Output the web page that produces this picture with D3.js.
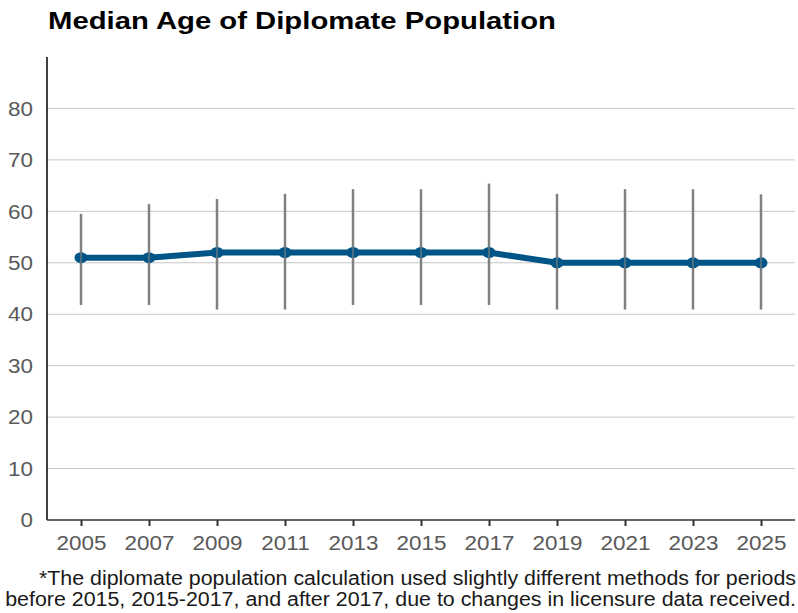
<!DOCTYPE html>
<html><head><meta charset="utf-8">
<script src="https://cdn.jsdelivr.net/npm/d3@7"></script>
<style>body{margin:0;background:#fff}svg{display:block}text{font-family:"Liberation Sans",Arial,sans-serif}</style>
</head><body>
<svg id="c" width="798" height="613"></svg>
<script>
const years = [2005,2007,2009,2011,2013,2015,2017,2019,2021,2023,2025];
const medianAge = [51,51,52,52,52,52,52,50,50,50,50];
const lowAge = [41.8,41.8,40.9,40.9,41.8,41.8,41.8,40.9,40.9,40.9,40.9];
const highAge = [59.5,61.4,62.4,63.4,64.3,64.3,65.4,63.4,64.3,64.3,63.3];
const yTicks = [0,10,20,30,40,50,60,70,80];
const title = "Median Age of Diplomate Population";
const notes = ["*The diplomate population calculation used slightly different methods for periods",
               "before 2015, 2015-2017, and after 2017, due to changes in licensure data received."];

const TSX = 1.22; // title horizontal stretch seen in the reference
const SX = 1.07;  // other text stretch
const svg = d3.select("#c");
const L=47, R=795, T=57, B=520;
const x = d3.scaleLinear().domain([2004,2026]).range([L,R]);
const y = d3.scaleLinear().domain([0,90]).range([B,T]);

svg.append("text").attr("transform",`translate(48,29) scale(${TSX},1)`).attr("font-size",24).attr("font-weight","bold")
  .attr("fill","#000").text(title);

// gridlines
svg.append("g").selectAll("line").data(yTicks.filter(d=>d>0)).join("line")
  .attr("x1",L).attr("x2",R).attr("y1",d=>y(d)).attr("y2",d=>y(d))
  .attr("stroke","#c8c8c8").attr("stroke-width",1);

// y axis
const ya = svg.append("g").attr("transform",`translate(${L},0)`)
  .call(d3.axisLeft(y).tickValues(yTicks).tickSize(0).tickPadding(14/SX));
ya.select(".domain").attr("stroke","#000").attr("stroke-width",1.5).attr("d",`M0,${T}V${B}`);
ya.selectAll("text").attr("font-size",21).attr("fill","#595959").attr("font-family","Liberation Sans, Arial, sans-serif")
  .attr("transform",`scale(${SX},1)`);

// x axis
const xa = svg.append("g").attr("transform",`translate(0,${B})`)
  .call(d3.axisBottom(x).tickValues(years).tickFormat(d3.format("d")).tickSize(6).tickPadding(9));
xa.select(".domain").attr("stroke","#333").attr("stroke-width",1.5).attr("d",`M${L},0H${R}`);
xa.selectAll(".tick line").attr("stroke","#333").attr("stroke-width",2);
xa.selectAll("text").attr("font-size",21).attr("fill","#595959").attr("font-family","Liberation Sans, Arial, sans-serif")
  .attr("transform",`scale(${SX},1)`);

const data = years.map((yr,i)=>({yr, m:medianAge[i], lo:lowAge[i], hi:highAge[i]}));

// error bars
svg.append("g").selectAll("line").data(data).join("line")
  .attr("x1",d=>x(d.yr)).attr("x2",d=>x(d.yr)).attr("y1",d=>y(d.lo)).attr("y2",d=>y(d.hi))
  .attr("stroke","#808080").attr("stroke-width",2.5);

// line
svg.append("path").datum(data)
  .attr("d",d3.line().x(d=>x(d.yr)).y(d=>y(d.m)))
  .attr("fill","none").attr("stroke","#005587").attr("stroke-width",6);

svg.append("g").selectAll("ellipse").data(data).join("ellipse")
  .attr("cx",d=>x(d.yr)).attr("cy",d=>y(d.m)).attr("rx",6.5).attr("ry",5.5).attr("fill","#005587");

svg.append("g").selectAll("line").data(data).join("line")
  .attr("x1",d=>x(d.yr)).attr("x2",d=>x(d.yr)).attr("y1",d=>y(d.m)-6).attr("y2",d=>y(d.m)+6)
  .attr("stroke","#808080").attr("stroke-width",2).attr("opacity",0.6);

svg.append("g").selectAll("text").data(notes).join("text")
  .attr("transform",(d,i)=>`translate(796,${585+i*21}) scale(${SX},1)`).attr("text-anchor","end")
  .attr("font-size",20).attr("fill","#1a1a1a").text(d=>d);
</script>
</body></html>
